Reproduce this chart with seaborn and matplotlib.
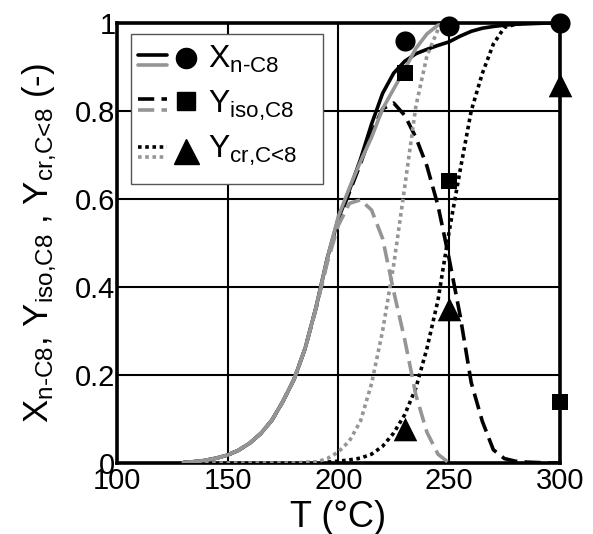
import numpy as np
import pandas as pd
import matplotlib
matplotlib.use("Agg")
import matplotlib.pyplot as plt
import seaborn as sns
from matplotlib.lines import Line2D
from matplotlib.patches import Rectangle

# ---------------- data ----------------
T_black = [130, 135, 140, 145, 150, 155, 160, 165, 170, 175, 180, 185, 190, 195,
           200, 205, 210, 215, 220, 225, 230, 235, 240, 245, 250, 255, 260, 265,
           270, 275, 280, 285, 290, 295, 300]
X_black = [0.001, 0.003, 0.006, 0.011, 0.018, 0.029, 0.045, 0.067, 0.097, 0.14,
           0.19, 0.26, 0.355, 0.465, 0.555, 0.62, 0.69, 0.77, 0.84, 0.886, 0.913,
           0.93, 0.94, 0.949, 0.957, 0.97, 0.981, 0.988, 0.992, 0.995, 0.997,
           0.998, 0.999, 1.0, 1.0]
Yiso_black = [0.001, 0.003, 0.006, 0.011, 0.018, 0.029, 0.045, 0.067, 0.097, 0.14,
              0.19, 0.26, 0.353, 0.46, 0.55, 0.615, 0.68, 0.75, 0.805, 0.818, 0.79,
              0.74, 0.675, 0.585, 0.465, 0.335, 0.183, 0.095, 0.03, 0.01, 0.004,
              0.002, 0.001, 0.0, 0.0]
Ycr_black = [0.0, 0.0, 0.0, 0.0, 0.0, 0.0, 0.0, 0.0, 0.0, 0.0, 0.0, 0.001, 0.001,
             0.002, 0.004, 0.007, 0.011, 0.02, 0.038, 0.068, 0.11, 0.17, 0.26, 0.37,
             0.525, 0.665, 0.8, 0.885, 0.952, 0.99, 0.997, 1.0, 1.0, 1.0, 1.0]

T_gray = [130, 135, 140, 145, 150, 155, 160, 165, 170, 175, 180, 185, 190, 195,
          200, 205, 210, 215, 220, 225, 230, 235, 240, 245, 250]
X_gray = [0.001, 0.003, 0.006, 0.011, 0.018, 0.029, 0.045, 0.067, 0.097, 0.14,
          0.19, 0.26, 0.355, 0.465, 0.56, 0.625, 0.685, 0.74, 0.805, 0.85, 0.895,
          0.942, 0.975, 0.995, 1.0]
Yiso_gray = [0.001, 0.003, 0.006, 0.011, 0.018, 0.029, 0.045, 0.067, 0.097, 0.14,
             0.19, 0.26, 0.352, 0.455, 0.54, 0.59, 0.598, 0.575, 0.51, 0.39, 0.28,
             0.155, 0.07, 0.02, 0.0]
Ycr_gray = [0.0, 0.0, 0.0, 0.0, 0.0, 0.0, 0.0, 0.0, 0.0, 0.0, 0.0, 0.0, 0.002,
            0.01, 0.025, 0.05, 0.095, 0.18, 0.30, 0.45, 0.628, 0.81, 0.925, 0.985,
            1.0]

T_exp = [230, 250, 300]
X_exp = [0.959, 0.992, 1.0]
Yiso_exp = [0.886, 0.64, 0.139]
Ycr_exp = [0.077, 0.351, 0.86]

xticks = [100, 150, 200, 250, 300]
yticks = [0, 0.2, 0.4, 0.6, 0.8, 1.0]
yticklabels = ["0", "0.2", "0.4", "0.6", "0.8", "1"]

lab_X = r"$X_{\text{n-C8}}$"
lab_Yiso = r"$Y_{\text{iso,C8}}$"
lab_Ycr = r"$Y_{\text{cr,C<8}}$"

# ---------------- style ----------------
sns.set_style("white")
plt.rcParams["font.family"] = ["Liberation Sans", "DejaVu Sans"]
plt.rcParams["mathtext.fontset"] = "custom"
plt.rcParams["mathtext.rm"] = "Liberation Sans"
plt.rcParams["mathtext.it"] = "Liberation Sans"
plt.rcParams["mathtext.bf"] = "Liberation Sans:bold"
plt.rcParams["mathtext.default"] = "regular"
plt.rcParams["text.color"] = "black"
plt.rcParams["axes.labelcolor"] = "black"
plt.rcParams["xtick.color"] = "black"
plt.rcParams["ytick.color"] = "black"

BLACK = "#000000"
GRAY = "#959595"
LW = 2.6
DASH = (0, (4.5, 2.0))
DOT = (0, (1.0, 1.0))

fig = plt.figure(figsize=(5.93, 5.34), dpi=100)
ax = fig.add_axes([0.197, 0.133, 0.747, 0.824])

# model lines
sns.lineplot(x=T_black, y=X_black, ax=ax, color=BLACK, lw=LW, linestyle="-", zorder=3)
sns.lineplot(x=T_black, y=Yiso_black, ax=ax, color=BLACK, lw=LW, linestyle=DASH, zorder=3)
sns.lineplot(x=T_black, y=Ycr_black, ax=ax, color=BLACK, lw=LW, linestyle=DOT, zorder=3)
sns.lineplot(x=T_gray, y=Ycr_gray, ax=ax, color=GRAY, lw=LW, linestyle=DOT, zorder=3.5)
sns.lineplot(x=T_gray, y=Yiso_gray, ax=ax, color=GRAY, lw=LW, linestyle=DASH, zorder=3.5)
sns.lineplot(x=T_gray, y=X_gray, ax=ax, color=GRAY, lw=LW, linestyle="-", zorder=3.6)

# experimental points
sns.scatterplot(x=T_exp, y=X_exp, ax=ax, marker="o", s=14.5 ** 2, color=BLACK,
                edgecolor=BLACK, linewidth=0, zorder=7, clip_on=False)
sns.scatterplot(x=T_exp, y=Yiso_exp, ax=ax, marker="s", s=11.5 ** 2, color=BLACK,
                edgecolor=BLACK, linewidth=0, zorder=7, clip_on=False)
sns.scatterplot(x=T_exp, y=Ycr_exp, ax=ax, marker="^", s=17 ** 2, color=BLACK,
                edgecolor=BLACK, linewidth=0, zorder=7, clip_on=False)

ax.set_xlim(100, 300)
ax.set_ylim(0, 1)
ax.set_xticks(xticks)
ax.set_xticklabels([str(t) for t in xticks])
ax.set_yticks(yticks)
ax.set_yticklabels(yticklabels)
ax.grid(True, color="black", lw=1.5)
ax.tick_params(direction="in", length=4, width=1.5, labelsize=21, colors="black")
ax.tick_params(axis="x", pad=3)
ax.tick_params(axis="y", pad=1)
for s in ax.spines.values():
    s.set_linewidth(2.6)
    s.set_color("black")

ax.set_xlabel("T (°C)", fontsize=26, color="black")
ax.xaxis.set_label_coords(0.5, -0.085)
ax.set_ylabel(lab_X + ", " + lab_Yiso + " , " + lab_Ycr + " (-)", fontsize=25,
              color="black")
ax.yaxis.set_label_coords(-0.13, 0.5)

# ---------------- legend (drawn in axes coordinates) ----------------
box = Rectangle((0.032, 0.634), 0.433, 0.341, transform=ax.transAxes,
                facecolor="white", edgecolor="#555555", lw=1.0, zorder=8)
ax.add_patch(box)
rows = [
    (0.927, 0.905, "-", "o", 14.5, 0.920, 0.898, lab_X),
    (0.827, 0.802, DASH, "s", 12.5, 0.823, 0.795, lab_Yiso),
    (0.718, 0.695, DOT, "^", 18, 0.708, 0.693, lab_Ycr),
]
for yb, yg, ls, mk, ms, ym, ytxt, lab in rows:
    ax.add_line(Line2D([0.047, 0.113], [yb, yb], transform=ax.transAxes, color=BLACK,
                       lw=LW, linestyle=ls, zorder=9, clip_on=False))
    ax.add_line(Line2D([0.047, 0.113], [yg, yg], transform=ax.transAxes, color=GRAY,
                       lw=LW, linestyle=ls, zorder=9, clip_on=False))
    ax.add_line(Line2D([0.156], [ym], transform=ax.transAxes, color=BLACK, marker=mk,
                       markersize=ms, linestyle="none", zorder=9, clip_on=False))
    ax.text(0.205, ytxt, lab, transform=ax.transAxes, fontsize=23, ha="left",
            va="baseline", zorder=9, color="black")

fig.savefig("out.png", dpi=100)
